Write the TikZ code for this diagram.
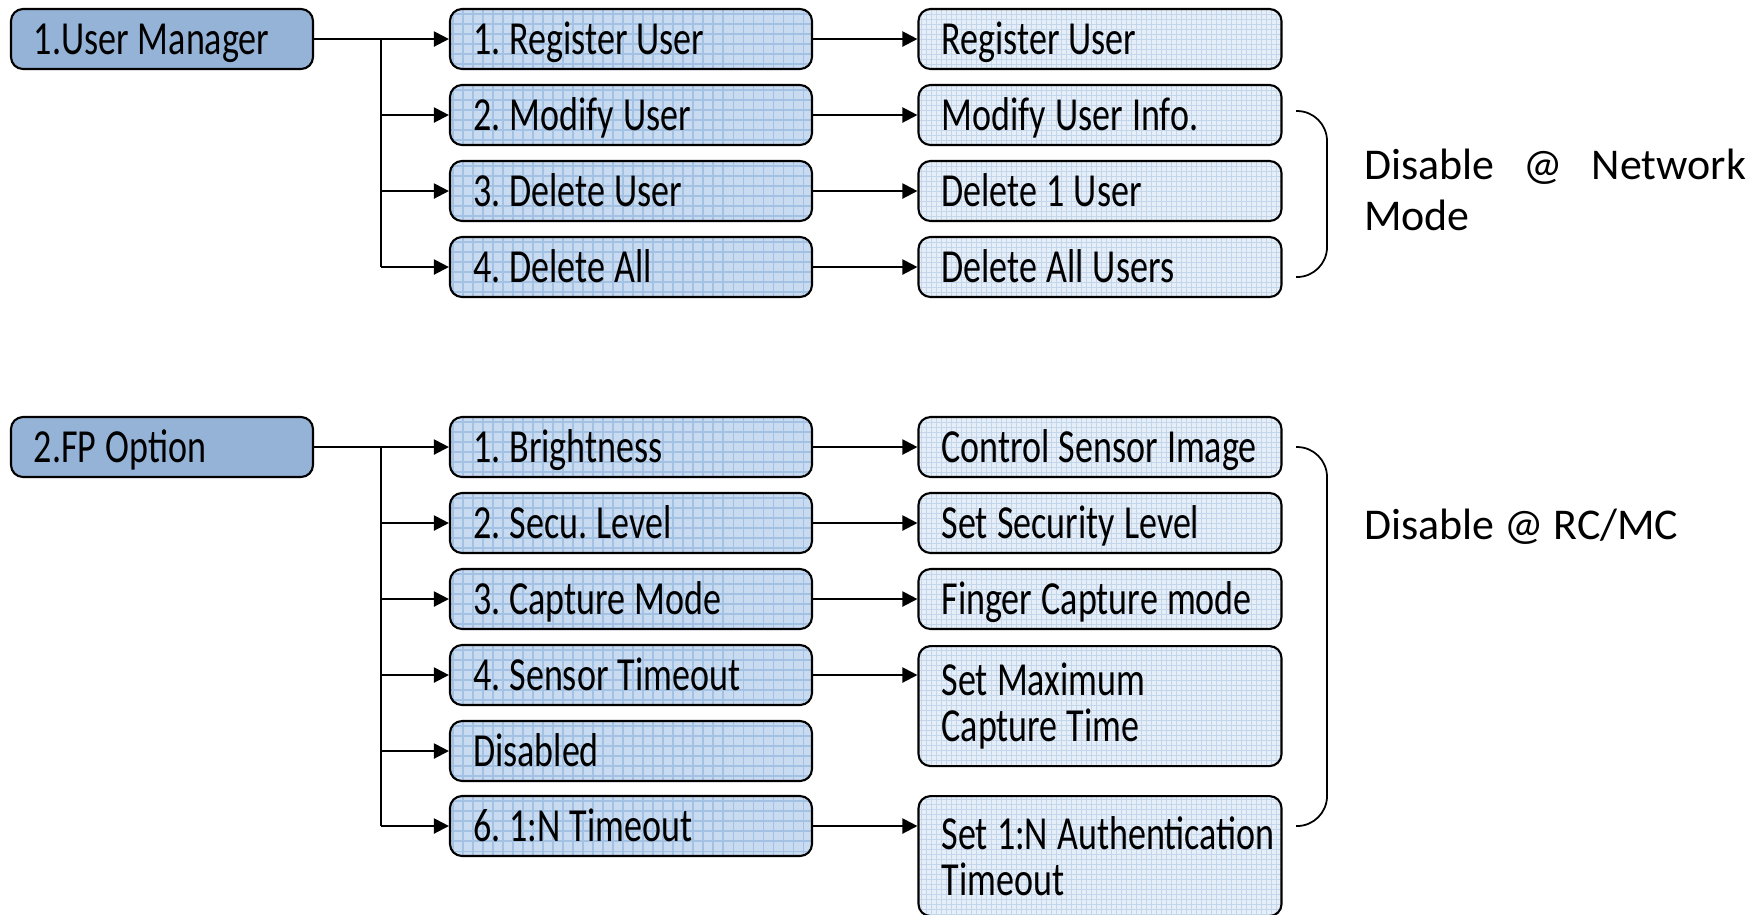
\documentclass[tikz,border=0pt]{standalone}
\usepackage{fontspec}
\setmainfont{Carlito}
\newfontfamily\boxfont[FakeStretch=0.76]{Carlito}
\usetikzlibrary{arrows.meta}
\definecolor{headblue}{HTML}{95B3D7}
\definecolor{midblue}{HTML}{C9DBF0}
\definecolor{midgrid}{HTML}{A3C1E2}
\definecolor{leafblue}{HTML}{E6EEF8}
\definecolor{leafgrid}{HTML}{C3D6EC}

\begin{document}
\begin{tikzpicture}[x=1cm,y=1cm,line width=0.6pt,
  box/.style={draw=black,line width=0.6pt,rounded corners=0.12cm,inner xsep=0.03cm,inner ysep=0pt,
    align=left,minimum height=0.6cm,text height=0.36cm,text depth=0.06cm,
    font=\boxfont\fontsize{13.5}{13}\selectfont,
    execute at begin node={\leftskip=0.2cm\rightskip=0pt plus 1fil minus 1cm
      \spaceskip=2.6pt plus 1pt\xspaceskip=2.6pt plus 1pt\hyphenpenalty=10000\frenchspacing}},
  head/.style={box,fill=headblue,text width=2.96cm},
  menu/.style={box,fill=midblue,text width=3.56cm,
    path picture={\draw[midgrid,line width=0.3pt] (path picture bounding box.south west) grid[step=0.1] (path picture bounding box.north east);}},
  leaf/.style={box,fill=leafblue,text width=3.57cm,
    path picture={\draw[leafgrid,line width=0.2pt] (path picture bounding box.south west) grid[step=0.05] (path picture bounding box.north east);}},
  tall/.style={minimum height=1.2cm,text height={},text depth={},anchor=north},
  note/.style={inner sep=0pt,anchor=north west,font=\fontsize{12.5}{14.5}\selectfont},
  arr/.style={-{Triangle[length=0.15cm,width=0.15cm]}}]
  \useasboundingbox (0,0) rectangle (17.64,-9.14);

  % user manager
  \node[head] (um) at (1.62,-0.39) {1.User Manager};
  \node[menu] (u1) at (6.31,-0.39) {1. Register User};
  \node[menu] (u2) at (6.31,-1.15) {2. Modify User};
  \node[menu] (u3) at (6.31,-1.91) {3. Delete User};
  \node[menu] (u4) at (6.31,-2.67) {4. Delete All};
  \node[leaf] (d1) at (11.0,-0.39) {Register User};
  \node[leaf] (d2) at (11.0,-1.15) {Modify User Info.};
  \node[leaf] (d3) at (11.0,-1.91) {Delete 1 User};
  \node[leaf] (d4) at (11.0,-2.67) {Delete All Users};
  \coordinate (ut) at (3.81,-0.39);
  \draw (um.east) -- (ut) -- (ut |- u4.west);
  \foreach \n in {u1,u2,u3,u4} \draw[arr] (ut |- \n.west) -- (\n.west);
  \foreach \n/\m in {u1/d1,u2/d2,u3/d3,u4/d4} \draw[arr] (\n.east) -- (\m.west);
  \draw[line width=0.5pt,rounded corners=0.3cm] (12.96,-1.11) -- (13.27,-1.11) -- (13.27,-2.77) -- (12.96,-2.77);
  \node[note,text width=3.82cm,align=justify] (netnote) at (13.63,-1.48) {Disable @ Network Mode};

  % fp option
  \node[head] (fp) at (1.62,-4.47) {2.FP Option};
  \node[menu] (f1) at (6.31,-4.47) {1. Brightness};
  \node[menu] (f2) at (6.31,-5.23) {2. Secu. Level};
  \node[menu] (f3) at (6.31,-5.99) {3. Capture Mode};
  \node[menu] (f4) at (6.31,-6.75) {4. Sensor Timeout};
  \node[menu] (f5) at (6.31,-7.51) {Disabled};
  \node[menu] (f6) at (6.31,-8.26) {6. 1:N Timeout};
  \node[leaf] (s1) at (11.0,-4.47) {Control Sensor Image};
  \node[leaf] (s2) at (11.0,-5.23) {Set Security Level};
  \node[leaf] (s3) at (11.0,-5.99) {Finger Capture mode};
  \node[leaf,tall] (s4) at (11.0,-6.45) {Set Maximum\\Capture Time};
  \node[leaf,tall] (s6) at (11.0,-7.95) {Set 1:N Authentication\\Timeout};
  \coordinate (ft) at (3.81,-4.47);
  \draw (fp.east) -- (ft) -- (ft |- f6.west);
  \foreach \n in {f1,f2,f3,f4,f5,f6} \draw[arr] (ft |- \n.west) -- (\n.west);
  \foreach \n/\m in {f1/s1,f2/s2,f3/s3,f4/s4,f6/s6} \draw[arr] (\n.east) -- (\n.east -| \m.west);
  \draw[line width=0.5pt,rounded corners=0.3cm] (12.96,-4.47) -- (13.27,-4.47) -- (13.27,-8.26) -- (12.96,-8.26);
  \node[note,anchor=west] (rcnote) at (13.63,-5.27) {Disable @ RC/MC};
\end{tikzpicture}
\end{document}
